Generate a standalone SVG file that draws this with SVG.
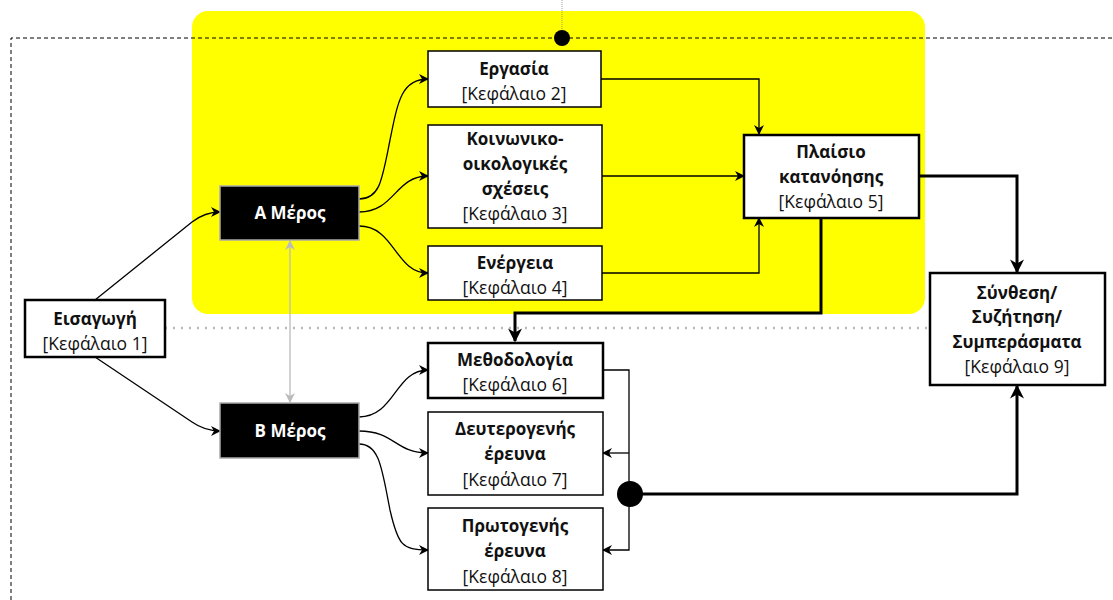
<svg xmlns="http://www.w3.org/2000/svg" width="1113" height="600" viewBox="0 0 1113 600">
<defs>
<marker id="ar" viewBox="0 0 10 10" refX="9" refY="5" markerWidth="10" markerHeight="10" markerUnits="userSpaceOnUse" orient="auto"><path d="M0,0 L10,5 L0,10 L3,5 z" fill="#000"/></marker>
<marker id="arb" viewBox="0 0 10 10" refX="9" refY="5" markerWidth="14" markerHeight="14" markerUnits="userSpaceOnUse" orient="auto"><path d="M0,0 L10,5 L0,10 L3,5 z" fill="#000"/></marker>
<marker id="arg" viewBox="0 0 10 10" refX="9" refY="5" markerWidth="10" markerHeight="10" markerUnits="userSpaceOnUse" orient="auto-start-reverse"><path d="M0,0 L10,5 L0,10 L3,5 z" fill="#bbb"/></marker>
<style>
text{font-family:"Open Sans","Noto Sans","Liberation Sans",sans-serif;font-size:17.5px;text-anchor:middle;fill:#111}
.b{font-weight:bold;font-size:17px}
.w{fill:#fff;font-weight:bold;font-size:17px}
.box{fill:#fff;stroke:#000;stroke-width:1.5}
.tb{fill:#fff;stroke:#000;stroke-width:2.5}
.blk{fill:#000;stroke:#aaa;stroke-width:1.5}
.c{fill:none;stroke:#000;stroke-width:1.3}
.ct{fill:none;stroke:#000;stroke-width:3}
</style>
</defs>
<rect x="192" y="11" width="733" height="303" rx="16" fill="#ffff00"/>
<path d="M11,600 V38 H1113" fill="none" stroke="#000" stroke-width="1" stroke-dasharray="4,3"/>
<line x1="562" y1="0" x2="562" y2="38" stroke="#888" stroke-width="0.8" stroke-dasharray="1,1"/>
<circle cx="562" cy="38" r="8" fill="#000"/>
<line x1="165" y1="328" x2="930" y2="328" stroke="#bbb" stroke-width="2.5" stroke-dasharray="2,6"/>
<g id="connectors">
<path class="c" d="M95,300 L192,222 Q205,212 220,212" marker-end="url(#ar)"/>
<path class="c" d="M95,357 L192,422 Q205,431 220,431" marker-end="url(#ar)"/>
<path class="c" d="M359,199 C380,199 382,180 390,140 C398,100 402,79 428,79" marker-end="url(#ar)"/>
<path class="c" d="M359,212 C395,212 395,176 428,176" marker-end="url(#ar)"/>
<path class="c" d="M359,226 C395,226 395,273 428,273" marker-end="url(#ar)"/>
<path class="c" d="M359,417 C395,417 395,370 428,370" marker-end="url(#ar)"/>
<path class="c" d="M359,431 C395,431 395,453 428,453" marker-end="url(#ar)"/>
<path class="c" d="M359,444 C380,444 382,470 390,510 C398,545 402,550 428,550" marker-end="url(#ar)"/>
<line x1="290" y1="241" x2="290" y2="402" stroke="#bbb" stroke-width="1.3" marker-start="url(#arg)" marker-end="url(#arg)"/>
<path class="c" d="M601,79 H759 V134" marker-end="url(#ar)"/>
<path class="c" d="M601,176 H744" marker-end="url(#ar)"/>
<path class="c" d="M601,273 H759 V218" marker-end="url(#ar)"/>
<path class="ct" d="M919,176 H1017 V272" marker-end="url(#arb)"/>
<path class="ct" d="M821,218 V313 H515 V341" marker-end="url(#arb)"/>
<path class="c" d="M603,370 H629 V550 H603" marker-end="url(#ar)"/>
<path class="c" d="M629,453 H603" marker-end="url(#ar)"/>
<path class="ct" d="M630,494 H1017 V386" marker-end="url(#arb)"/>
<circle cx="630" cy="494" r="13" fill="#000"/>
</g>
<g id="n1"><rect class="tb" x="25" y="300" width="140" height="57"/><text class="b" x="95" y="325">Εισαγωγή</text><text x="95" y="350">[Κεφάλαιο 1]</text></g>
<g id="nA"><rect class="blk" x="220" y="186" width="139" height="54"/><text class="w" x="290" y="219">Α Μέρος</text></g>
<g id="nB"><rect class="blk" x="220" y="403" width="139" height="55"/><text class="w" x="290" y="437">Β Μέρος</text></g>
<g id="n2"><rect class="box" x="428" y="51" width="173" height="56"/><text class="b" x="514" y="75">Εργασία</text><text x="514" y="100">[Κεφάλαιο 2]</text></g>
<g id="n3"><rect class="box" x="428" y="125" width="174" height="103"/><text class="b" x="515" y="145">Κοινωνικο-</text><text class="b" x="515" y="170">οικολογικές</text><text class="b" x="515" y="195">σχέσεις</text><text x="515" y="220">[Κεφάλαιο 3]</text></g>
<g id="n4"><rect class="box" x="428" y="246" width="174" height="54"/><text class="b" x="515" y="269">Ενέργεια</text><text x="515" y="294">[Κεφάλαιο 4]</text></g>
<g id="n5"><rect class="tb" x="744" y="135" width="175" height="83"/><text class="b" x="831" y="158">Πλαίσιο</text><text class="b" x="831" y="183">κατανόησης</text><text x="831" y="208">[Κεφάλαιο 5]</text></g>
<g id="n9"><rect class="tb" x="930" y="273" width="175" height="112"/><text class="b" x="1017" y="299">Σύνθεση/</text><text class="b" x="1017" y="323">Συζήτηση/</text><text class="b" x="1017" y="348">Συμπεράσματα</text><text x="1017" y="373">[Κεφάλαιο 9]</text></g>
<g id="n6"><rect class="tb" x="428" y="343" width="175" height="55"/><text class="b" x="515" y="366">Μεθοδολογία</text><text x="515" y="391">[Κεφάλαιο 6]</text></g>
<g id="n7"><rect class="box" x="428" y="412" width="175" height="83"/><text class="b" x="515" y="435">Δευτερογενής</text><text class="b" x="515" y="460">έρευνα</text><text x="515" y="486">[Κεφάλαιο 7]</text></g>
<g id="n8"><rect class="box" x="428" y="508" width="175" height="82"/><text class="b" x="515" y="532">Πρωτογενής</text><text class="b" x="515" y="557">έρευνα</text><text x="515" y="583">[Κεφάλαιο 8]</text></g>
</svg>
